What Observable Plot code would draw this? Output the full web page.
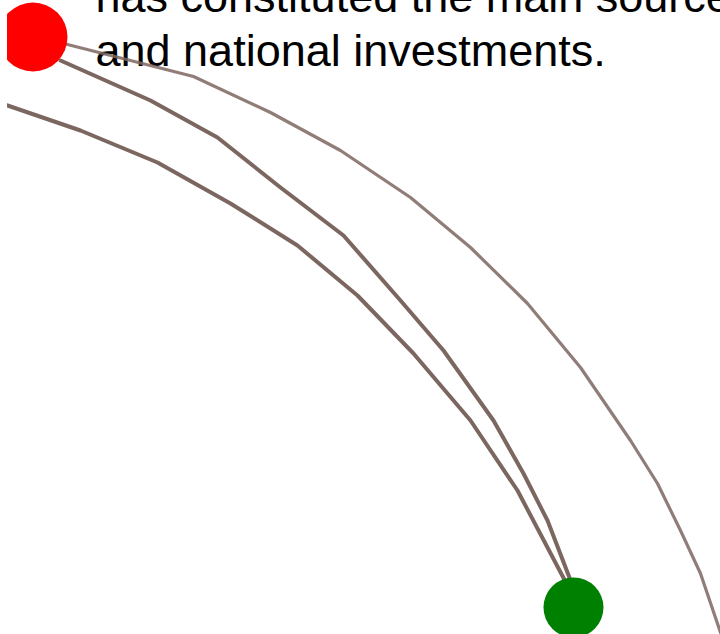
<!DOCTYPE html>
<html>
<head>
<meta charset="utf-8">
<script src="https://cdn.jsdelivr.net/npm/d3@7"></script>
<script src="https://cdn.jsdelivr.net/npm/@observablehq/plot@0.6"></script>
<style>
  html, body { margin: 0; padding: 0; background: white; }
  #chart svg { display: block; overflow: hidden; }
</style>
</head>
<body>
<div id="chart"></div>
<script>
// Annotation text lines (the first is cut off by the top edge)
const textLines = ["has constituted the main source of", "and national investments."];
const textBaselines = [11, 65];
const textX = 95;

// Route A: from origin (red) running off the bottom-right edge
const routeAX = [67, 193, 270, 340, 410, 470, 527, 580, 630, 657, 680, 700, 720, 726];
const routeAY = [44, 76, 112, 150, 197, 247, 303, 367, 440, 483, 530, 573, 632, 650];

// Route B: from origin (red) to destination (green)
const routeBX = [60, 150, 217, 280, 343, 400, 443, 493, 523, 547, 572];
const routeBY = [60, 100, 137, 187, 235, 300, 350, 420, 473, 520, 585];

// Route C: entering from the left edge to destination (green)
const routeCX = [0, 7, 80, 157, 230, 297, 357, 413, 470, 517, 567];
const routeCY = [103, 105, 130, 162, 203, 245, 295, 353, 420, 490, 585];

// Endpoints
const originX = 32.5, originY = 36.5;
const destX = 573, destY = 607;

const toPts = (xs, ys) => xs.map((x, i) => ({x, y: ys[i]}));
const routeA = toPts(routeAX, routeAY);
const routeB = toPts(routeBX, routeBY);
const routeC = toPts(routeCX, routeCY);

const stroke = "#7c6660";

const chart = Plot.plot({
  width: 720,
  height: 634,
  marginLeft: 7,
  marginRight: 0,
  marginTop: 0,
  marginBottom: 0,
  x: {domain: [0, 720], range: [0, 720], axis: null},
  y: {domain: [0, 634], range: [0, 634], axis: null},
  style: {background: "white", overflow: "hidden"},
  marks: [
    Plot.text(textLines, {
      x: () => textX,
      y: (d, i) => textBaselines[i],
      text: d => d,
      textAnchor: "start",
      lineAnchor: "bottom",
      fontSize: 45,
      fontFamily: "Liberation Sans, Arial, sans-serif",
      fill: "black"
    }),
    Plot.line(routeA, {x: "x", y: "y", stroke, strokeWidth: 3.2, strokeOpacity: 0.85, clip: "frame"}),
    Plot.line(routeB, {x: "x", y: "y", stroke, strokeWidth: 4, clip: "frame"}),
    Plot.line(routeC, {x: "x", y: "y", stroke, strokeWidth: 4, clip: "frame"}),
    Plot.dot([{x: originX, y: originY}], {x: "x", y: "y", r: 34.5, fill: "red", stroke: "none", clip: "frame"}),
    Plot.dot([{x: destX, y: destY}], {x: "x", y: "y", r: 30, fill: "green", stroke: "none", clip: "frame"})
  ]
});
document.getElementById("chart").appendChild(chart);
</script>
</body>
</html>
